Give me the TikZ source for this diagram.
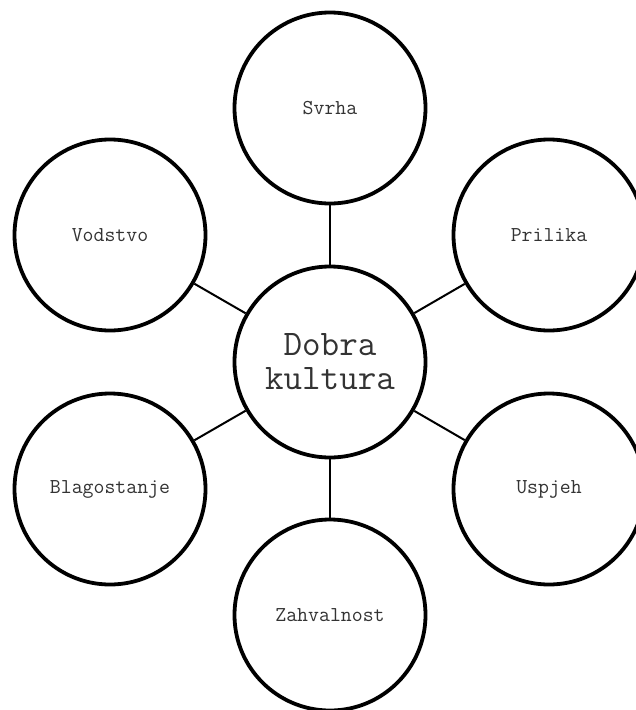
\documentclass[tikz,border=0pt]{standalone}
\begin{document}
\begin{tikzpicture}[x=1pt,y=1pt,
  bubble/.style={circle,draw=black,line width=3.8pt,fill=white,minimum size=191pt,inner sep=0pt,
    font=\ttfamily\fontsize{21.2}{25}\selectfont,text=black!80,align=center},
  hub/.style={bubble,font=\ttfamily\fontsize{36}{34}\selectfont},
  link/.style={draw=black,line width=2pt}]
\useasboundingbox (0,0) rectangle (636,-710);
\node[hub] (c) at (330,-362) {Dobra\\kultura};
\node[bubble] (s) at (330,-108) {Svrha};
\node[bubble] (p) at (549,-235) {Prilika};
\node[bubble] (u) at (549,-489) {Uspjeh};
\node[bubble] (z) at (330,-615) {Zahvalnost};
\node[bubble] (b) at (110,-489) {Blagostanje};
\node[bubble] (v) at (110,-235) {Vodstvo};
\foreach \n in {s,p,u,z,b,v} \draw[link] (c) -- (\n);
\end{tikzpicture}
\end{document}
